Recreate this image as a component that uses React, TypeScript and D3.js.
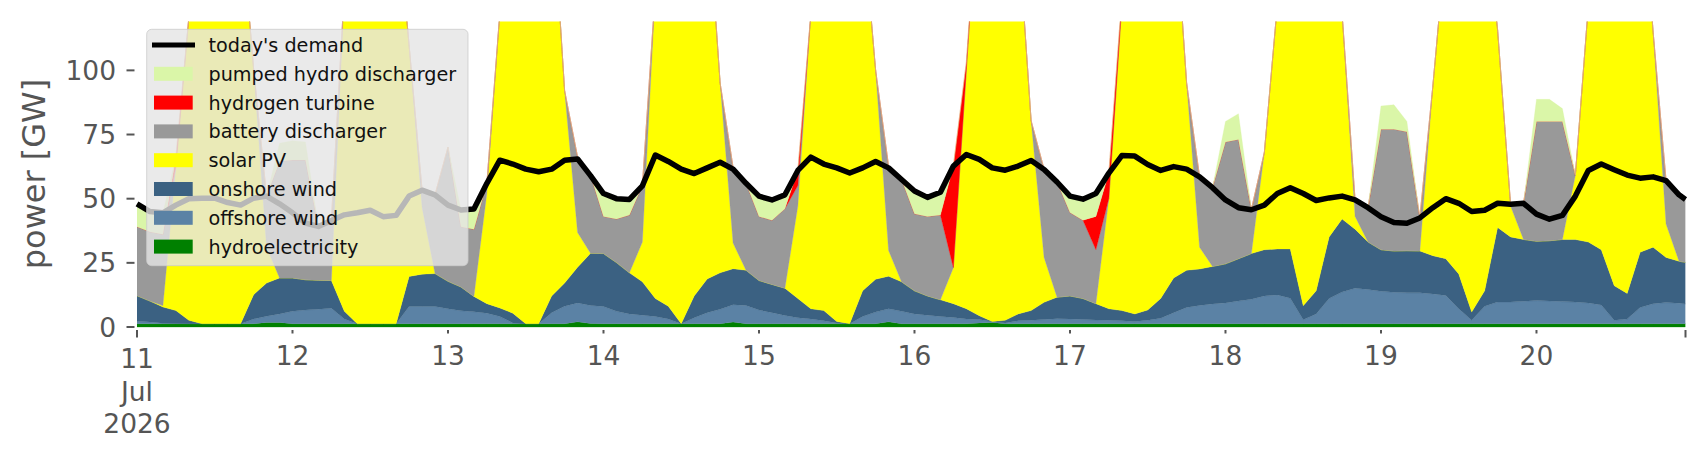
import React from "react";
import * as d3 from "d3";

// 2-hourly samples from 11 Jul 2026 00:00, last one at 20 Jul 23:00
const hours = [...d3.range(0, 240, 2), 239];
const dayLabels = ["11", "12", "13", "14", "15", "16", "17", "18", "19", "20"];
const yTicks = [0, 25, 50, 75, 100];

const hydro = [
  1.3, 1.3, 1.3, 1.3, 1.3, 1.3, 1.3, 1.3, 1.3, 1.3, 1.8, 1.8,
  1.3, 1.3, 1.3, 1.3, 1.3, 1.3, 1.3, 1.3, 1.3, 1.3, 1.3, 1.3,
  1.3, 1.3, 1.3, 1.3, 1.3, 1.3, 1.3, 1.3, 1.3, 1.3, 2.0, 1.4,
  1.3, 1.3, 1.3, 1.3, 1.3, 1.3, 1.3, 1.3, 1.3, 1.3, 1.9, 1.3,
  1.3, 1.3, 1.3, 1.3, 1.3, 1.3, 1.3, 1.3, 1.3, 1.3, 2.0, 1.3,
  1.3, 1.3, 1.3, 1.3, 1.3, 1.6, 1.8, 1.3, 1.3, 1.3, 1.3, 1.3,
  1.3, 1.3, 1.3, 1.3, 1.3, 1.3, 1.3, 1.3, 1.3, 1.3, 1.3, 1.3,
  1.3, 1.3, 1.3, 1.3, 1.3, 1.3, 1.3, 1.3, 1.3, 1.3, 1.3, 1.3,
  1.3, 1.3, 1.3, 1.3, 1.3, 1.3, 1.3, 1.3, 1.3, 1.3, 1.3, 1.3,
  1.3, 1.3, 1.3, 1.3, 1.3, 1.3, 1.3, 1.3, 1.3, 1.3, 1.3, 1.3,
  1.3,
];

const offshore = [
  0.9, 0.6, 0.2, 0.1, 0, 0, 0, 0, 0, 1.8, 2.4, 3.3,
  4.8, 5.3, 5.6, 6.0, 1.8, 0, 0, 0, 0, 6.7, 6.7, 6.7,
  5.8, 5.0, 4.6, 4.1, 2.8, 0.3, 0, 0, 4.3, 6.8, 7.4, 7.0,
  6.7, 4.8, 3.8, 3.3, 2.8, 1.8, 0, 2.3, 4.3, 5.6, 6.8, 7.1,
  5.3, 4.3, 3.2, 2.3, 1.8, 1.1, 0.3, 0, 2.8, 4.5, 5.1, 4.8,
  3.8, 3.3, 2.8, 2.4, 1.8, 1.3, 0.3, 0.3, 1.1, 1.3, 1.6, 1.9,
  1.8, 1.6, 1.4, 1.3, 1.1, 0.8, 1.3, 2.1, 4.3, 6.3, 7.1, 7.7,
  8.1, 8.8, 9.5, 10.8, 11.2, 9.9, 1.5, 3.8, 9.8, 12.3, 13.8, 13.3,
  12.6, 12.2, 12.0, 12.0, 11.6, 11.0, 5.8, 1.3, 6.8, 8.4, 8.4, 8.7,
  9.0, 8.8, 8.6, 8.4, 8.1, 7.3, 1.3, 1.8, 6.3, 7.8, 8.2, 8.0,
  7.7,
];

const onshore = [
  10.0, 8.2, 6.3, 5.0, 1.3, 0, 0, 0, 0, 9.5, 12.9, 14.0,
  13.0, 11.8, 11.3, 10.8, 3.0, 0, 0, 0, 0, 11.7, 12.6, 12.8,
  10.7, 9.3, 6.0, 3.7, 3.3, 3.8, 0, 0, 6.5, 9.0, 13.9, 20.3,
  20.6, 19.0, 16.0, 13.0, 7.0, 5.0, 0, 8.5, 13.1, 14.2, 14.0, 13.7,
  11.5, 11.0, 10.6, 7.5, 4.0, 4.0, 0.5, 0, 10.0, 12.8, 12.7, 11.5,
  9.0, 7.5, 6.5, 5.4, 4.0, 1.5, 0, 1.0, 2.7, 3.8, 6.7, 8.4,
  9.0, 8.2, 6.4, 4.5, 4.0, 3.0, 4.0, 7.7, 13.5, 14.5, 14.2, 14.6,
  15.2, 16.5, 17.8, 18.0, 17.9, 19.2, 5.5, 9.0, 24.0, 28.5, 23.0, 18.5,
  16.2, 16.1, 16.4, 16.3, 14.9, 14.3, 13.6, 3.2, 6.0, 29.1, 25.4, 24.1,
  23.1, 23.5, 24.2, 24.4, 23.7, 21.5, 13.5, 10.0, 21.5, 22.0, 17.6, 16.3,
  16.2,
];

const solar = [
  0, 0, 0.5, 56, 118, 175, 195, 180, 160, 88, 14, 0,
  0, 0, 0, 0, 125, 180, 200, 195, 165, 90, 26, 0,
  0, 0, 0, 43, 115, 170, 195, 190, 160, 75, 13.5, 0,
  0, 0, 0, 15.5, 120, 175, 200, 190, 150, 74, 10, 0,
  0, 0, 0, 36, 115, 175, 195, 190, 145, 81.5, 10, 0,
  0, 0, 0, 14, 93, 171, 195, 195, 150, 74, 17.5, 0,
  0, 0, 0, 43, 119, 175, 195, 185, 150, 73, 8.5, 0,
  0, 0, 0, 38, 95, 165, 195, 190, 130, 80, 5, 0,
  0, 0, 0, 0, 66, 123, 175, 195, 150, 77, 12, 0,
  0, 0, 0, 25, 92, 175, 195, 190, 150, 84, 13, 0,
  0,
];

const battery = [
  26.9, 27, 27.8, 0, 0, 0, 0, 0, 0, 0, 20, 45.5,
  46, 46.7, 21.1, 23.5, 0, 0, 0, 0, 0, 0, 6.8, 30.8,
  52.3, 23.5, 26.2, 4, 0, 0, 0, 0, 0, 0, 29.5, 30.5,
  14.5, 17, 22.5, 22, 0, 0, 0, 0, 0, 0, 29.5, 34,
  25, 25, 31, 8, 0, 0, 0, 0, 0, 0, 33, 40,
  30, 31, 33, 0, 0, 0, 0, 0, 0, 0, 34.4, 45,
  32.5, 30.5, 21, 0, 0, 0, 0, 0, 0, 0, 27.5, 30.8,
  47.5, 46.5, 17.2, 0, 0, 0, 0, 0, 0, 0, 6.5, 13.5,
  47, 47.5, 46.4, 13, 0, 0, 0, 0, 0, 0, 0.8, 14.2,
  46.7, 46.5, 46, 0, 0, 0, 0, 0, 0, 0, 17, 26,
  24.6,
];

const hydrogen = [
  0, 0, 0, 4, 0, 0, 0, 0, 0, 0, 0, 0,
  0, 0, 0, 0, 0, 0, 0, 0, 0, 0, 0, 0,
  0, 0, 0, 0, 0, 0, 0, 0, 0, 0, 0, 0,
  0, 0, 0, 0, 0, 0, 0, 0, 0, 0, 0, 0,
  0, 0, 0, 6, 0, 0, 0, 0, 0, 0, 0, 0,
  0, 0, 0, 39.7, 3, 0, 0, 0, 0, 0, 0, 0,
  0, 0, 13, 10, 3, 0, 0, 0, 0, 0, 0, 0,
  0, 0, 0, 0, 0, 0, 0, 0, 0, 0, 0, 0,
  0, 0, 0, 0, 0, 0, 0, 0, 0, 0, 0, 0,
  0, 0, 0, 0, 0, 0, 0, 0, 0, 0, 0, 0,
  0,
];

const pumped = [
  9, 8, 8.3, 0, 0, 0, 0, 0, 0, 0, 0, 7,
  7.5, 7, 0, 0, 0, 0, 0, 0, 0, 0, 0, 0,
  0, 6.6, 8, 0, 0, 0, 0, 0, 0, 0, 0, 0,
  9, 8, 6.2, 0, 0, 0, 0, 0, 0, 0, 0, 0,
  8, 8, 5.5, 0, 0, 0, 0, 0, 0, 0, 0, 0,
  9, 7.5, 9, 0, 0, 0, 0, 0, 0, 0, 0, 0,
  6.5, 8.3, 9, 0, 0, 0, 0, 0, 0, 0, 0, 0,
  8, 10, 0, 0, 0, 0, 0, 0, 0, 0, 0, 0,
  9, 9.5, 4, 0, 0, 0, 0, 0, 0, 0, 0, 0,
  8.6, 8.6, 5, 0, 0, 0, 0, 0, 0, 0, 0, 0,
  0,
];

const demand = [
  48, 45, 44.5, 47.5, 50, 50.2, 50.2, 48.5, 47.5, 50.2, 51, 48,
  44.5, 40.5, 39.2, 41.5, 43.7, 44.5, 45.5, 43, 43.5, 51, 53.3, 51.5,
  47.5, 45.6, 46, 56, 65, 63.5, 61.5, 60.5, 61.5, 65, 65.5, 59,
  52, 50, 49.7, 55, 67, 64.5, 61.5, 59.8, 62, 64.2, 61.5, 56,
  51, 49.5, 51.5, 61, 66.2, 63.5, 62, 60, 62, 64.5, 62, 57.5,
  53, 50.5, 52.5, 62.7, 67.2, 65.3, 62, 61.1, 62.7, 64.9, 61.4, 56.5,
  51, 49.8, 52, 60, 66.8, 66.6, 63.3, 61, 62.5, 61.5, 58.5, 54.3,
  49.5, 46.5, 45.7, 47.5, 52, 54.3, 52, 49.3, 50.3, 51, 49.5, 46.5,
  43, 40.7, 40.4, 42.5, 46.5, 50, 48.2, 45, 45.5, 48.2, 47.8, 48.2,
  44, 42, 43.5, 51, 61, 63.5, 61.3, 59.2, 58, 58.5, 57, 51.5,
  49.7,
];

// stacking order, bottom to top
const series = [
  { key: "hydroelectricity", values: hydro, color: "#008000" },
  { key: "offshore wind", values: offshore, color: "#5b82a5" },
  { key: "onshore wind", values: onshore, color: "#3b6182" },
  { key: "solar PV", values: solar, color: "#ffff00" },
  { key: "battery discharger", values: battery, color: "#999999" },
  { key: "hydrogen turbine", values: hydrogen, color: "#ff0000" },
  { key: "pumped hydro discharger", values: pumped, color: "#daf6a8" },
];

const FONT = "DejaVu Sans, Verdana, sans-serif";

export default function App() {
  const width = 1706;
  const height = 460;

  const x = d3.scaleLinear().domain([0, 239]).range([137, 1685.5]);
  const y = d3.scaleLinear().domain([0, 119]).range([327, 21.6]);

  const rows = hours.map((h, i) => {
    const r: Record<string, number> = { h };
    series.forEach((s) => (r[s.key] = s.values[i]));
    return r;
  });

  const stacked = d3.stack<Record<string, number>>().keys(series.map((s) => s.key))(rows);

  const area = d3
    .area<d3.SeriesPoint<Record<string, number>>>()
    .x((d) => x(d.data.h))
    .y0((d) => y(d[0]))
    .y1((d) => y(d[1]));

  const line = d3
    .line<number>()
    .x((_, i) => x(hours[i]))
    .y((d) => y(d));

  const [x0, x1] = x.range();
  const [yb, yt] = y.range();

  // legend entries, top to bottom
  const legendItems = [
    { key: "today's demand", color: "#000000", isLine: true },
    ...series
      .slice()
      .reverse()
      .map((s) => ({ key: s.key, color: s.color, isLine: false })),
  ];

  return (
    <svg
      width={width}
      height={height}
      style={{ position: "absolute", left: 0, top: 0, background: "#fff" }}
      fontFamily={FONT}
    >
      <defs>
        <clipPath id="plot">
          <rect x={x0} y={yt} width={x1 - x0} height={yb - yt + 1} />
        </clipPath>
      </defs>

      <g clipPath="url(#plot)">
        {stacked.map((s, i) => (
          <path
            key={s.key}
            d={area(s) || ""}
            fill={series[i].color}
            stroke={series[i].color}
            strokeWidth={0.3}
          />
        ))}
      </g>

      <path
        d={line(demand) || ""}
        fill="none"
        stroke="#000"
        strokeWidth={5.5}
        strokeLinejoin="round"
      />

      {/* y axis */}
      {yTicks.map((t) => (
        <g key={t}>
          <line x1={126.5} x2={134.5} y1={y(t)} y2={y(t)} stroke="#555" strokeWidth={2} />
          <text
            x={116}
            y={y(t)}
            dy="0.36em"
            textAnchor="end"
            fontSize={26.5}
            fill="#555"
          >
            {t}
          </text>
        </g>
      ))}
      <text
        transform={`translate(45,174) rotate(-90)`}
        textAnchor="middle"
        fontSize={32}
        fill="#555"
      >
        power [GW]
      </text>

      {/* x axis */}
      {dayLabels.map((lab, i) => {
        const px = x(i * 24);
        return (
          <g key={lab}>
            <line
              x1={px}
              x2={px}
              y1={330}
              y2={i === 0 ? 337.5 : 333.5}
              stroke="#555"
              strokeWidth={2}
            />
            <text
              x={px}
              y={i === 0 ? 368 : 365}
              textAnchor="middle"
              fontSize={26.5}
              fill="#555"
            >
              {lab}
            </text>
          </g>
        );
      })}
      <line x1={x(239)} x2={x(239)} y1={330} y2={337.5} stroke="#555" strokeWidth={2} />
      <text x={x(0)} y={400.5} textAnchor="middle" fontSize={26.5} fill="#555">
        Jul
      </text>
      <text x={x(0)} y={433} textAnchor="middle" fontSize={26.5} fill="#555">
        2026
      </text>

      {/* legend */}
      <rect
        x={146.7}
        y={29.3}
        width={321.3}
        height={236.4}
        rx={5}
        fill="#e5e5e5"
        fillOpacity={0.8}
        stroke="#cccccc"
        strokeOpacity={0.8}
      />
      {legendItems.map((it, i) => {
        const cy = 45 + i * 28.8;
        return (
          <g key={it.key}>
            {it.isLine ? (
              <line x1={152} x2={195} y1={cy} y2={cy} stroke={it.color} strokeWidth={5} />
            ) : (
              <rect x={154} y={cy - 7} width={38.7} height={14} fill={it.color} />
            )}
            <text x={208.5} y={cy} dy="0.36em" fontSize={19.2} fill="#111">
              {it.key}
            </text>
          </g>
        );
      })}
    </svg>
  );
}
